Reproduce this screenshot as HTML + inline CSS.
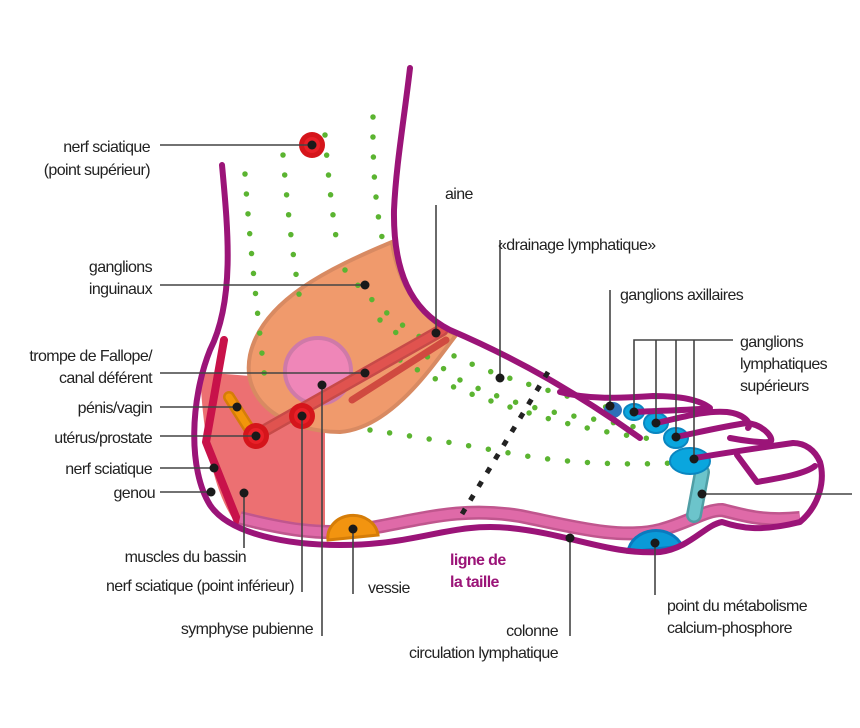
<!DOCTYPE html>
<html><head><meta charset="utf-8"><style>
html,body{margin:0;padding:0;background:#fff}
svg{display:block}
text{font-family:"Liberation Sans",sans-serif;font-size:16px;fill:#222;letter-spacing:-0.6px}
</style></head><body>
<svg width="860" height="728" viewBox="0 0 860 728" xmlns="http://www.w3.org/2000/svg">
<path d="M200 372 L325 382 L325 532 L235 522 Q205 480 200 372Z" fill="#ec7072"/>
<path d="M392 242 C330 268 262 300 250 355 C240 405 290 432 340 432 C390 428 430 370 456 335 C420 318 398 285 392 242Z" fill="#f09a6c" stroke="#d88a62" stroke-width="4"/>
<circle cx="318" cy="371" r="33" fill="#ef86b8" stroke="#cf7aa8" stroke-width="4"/>
<g fill="none" stroke="#5bb431" stroke-width="5.5" stroke-linecap="round" stroke-dasharray="0 20">
<path d="M245 174 Q250 250 265 380"/>
<path d="M283 155 Q290 240 300 300"/>
<path d="M325 135 Q330 200 338 250"/>
<path d="M373 117 Q372 200 385 250"/>
<path d="M345 270 Q400 340 500 375 Q560 395 610 408"/>
<path d="M380 320 Q430 360 460 380 Q520 410 600 420 L650 430"/>
<path d="M400 360 Q450 390 520 410 Q580 430 660 440"/>
<path d="M370 430 Q440 440 520 455 Q600 468 690 462"/>
</g>
<path d="M262 432 L442 330" stroke="#c74a48" stroke-width="13" stroke-linecap="round"/>
<path d="M262 432 L442 330" stroke="#e0534f" stroke-width="8" stroke-linecap="round"/>
<path d="M352 400 L446 340" stroke="#d04a40" stroke-width="7" stroke-linecap="round"/>
<path d="M229 397 L250 430" stroke="#d57d08" stroke-width="12" stroke-linecap="round"/>
<path d="M229 397 L250 430" stroke="#f2950a" stroke-width="7" stroke-linecap="round"/>
<path d="M224 340 L206 442 L238 522" stroke="#c8124a" stroke-width="8" fill="none" stroke-linecap="round" stroke-linejoin="round"/>
<path d="M240 518 C280 528 320 536 360 530 C420 520 460 506 520 516 C570 526 620 540 660 530 C690 522 705 510 722 510 C740 514 760 522 800 518" stroke="#c0568e" stroke-width="14" fill="none"/>
<path d="M240 518 C280 528 320 536 360 530 C420 520 460 506 520 516 C570 526 620 540 660 530 C690 522 705 510 722 510 C740 514 760 522 800 518" stroke="#df6aa8" stroke-width="9" fill="none"/>
<path d="M328 540 A25 22 0 0 1 378 535 Z" fill="#f29410" stroke="#d57d08" stroke-width="3"/>
<path d="M628 552 A28 24 0 0 1 682 546 Z" fill="#0a9ad8" stroke="#0a7abe" stroke-width="3"/>
<path d="M702 472 L694 515" stroke="#4f9ea5" stroke-width="16" stroke-linecap="round"/>
<path d="M702 472 L694 515" stroke="#6cc4cb" stroke-width="11" stroke-linecap="round"/>
<ellipse cx="690" cy="461" rx="20" ry="13" fill="#0aa6de" stroke="#0a86c0" stroke-width="2"/>
<ellipse cx="676" cy="438" rx="12" ry="10" fill="#0aa6de" stroke="#0a86c0" stroke-width="2"/>
<ellipse cx="656" cy="423" rx="12" ry="10" fill="#0aa6de" stroke="#0a86c0" stroke-width="2"/>
<ellipse cx="634" cy="412" rx="10" ry="8" fill="#0aa6de" stroke="#0a86c0" stroke-width="2"/>
<ellipse cx="613" cy="410" rx="9" ry="8" fill="#2d70b8"/>
<g fill="none" stroke="#9b1478" stroke-width="6" stroke-linecap="round" stroke-linejoin="round">
<path d="M222 165 C228 230 235 300 210 350 C190 400 188 470 210 505 C230 535 290 545 340 545 C420 545 450 522 510 528 C570 534 610 555 660 552 C690 548 705 525 722 522 C740 528 760 532 800 522 C820 505 825 480 820 462 C815 450 805 443 793 443"/>
<path d="M410 68 C404 120 396 165 394 210 C393 270 410 310 450 330 C520 360 580 395 640 438"/>
<path d="M560 392 C590 400 620 398 653 396 C680 396 700 400 710 408 C700 410 670 410 634 412"/>
<path d="M656 423 C680 418 705 410 727 412 C745 414 752 424 748 428"/>
<path d="M676 437 C700 432 725 426 747 423 C765 425 775 440 770 442 C760 443 740 440 730 438"/>
<path d="M695 458 C730 452 765 447 793 443"/>
<path d="M737 455 L757 482 C780 478 805 474 815 466"/>
</g>
<path d="M548 372 L462 514" stroke="#222" stroke-width="5" stroke-dasharray="6 10" fill="none"/>
<g fill="#d5151b"><circle cx="312" cy="145" r="13"/><circle cx="302" cy="416" r="13"/><circle cx="256" cy="436" r="13"/></g>
<g fill="#e82028"><circle cx="312" cy="145" r="8"/><circle cx="302" cy="416" r="8"/><circle cx="256" cy="436" r="8"/></g>
<g stroke="#444" stroke-width="1.6" fill="none">
<path d="M160 145 H312"/><path d="M160 285 H365"/><path d="M160 373 H365"/><path d="M160 407 H237"/><path d="M160 436 H256"/><path d="M160 468 H214"/><path d="M160 492 H211"/>
<path d="M244 493 V548"/><path d="M302 416 V592"/><path d="M322 385 V636"/><path d="M353 529 V594"/>
<path d="M436 205 V333"/><path d="M500 240 V378"/><path d="M610 290 V410"/>
<path d="M733 340 H634 V412 M656 340 V423 M676 340 V437 M694 340 V459"/>
<path d="M570 538 V636"/><path d="M655 543 V595"/><path d="M702 494 H852"/>
</g>
<g fill="#1a1a1a">
<circle cx="312" cy="145" r="4.5"/><circle cx="365" cy="285" r="4.5"/><circle cx="365" cy="373" r="4.5"/><circle cx="237" cy="407" r="4.5"/><circle cx="256" cy="436" r="4.5"/><circle cx="214" cy="468" r="4.5"/><circle cx="211" cy="492" r="4.5"/><circle cx="244" cy="493" r="4.5"/><circle cx="302" cy="416" r="4.5"/><circle cx="322" cy="385" r="4.5"/><circle cx="353" cy="529" r="4.5"/><circle cx="436" cy="333" r="4.5"/><circle cx="500" cy="378" r="4.5"/><circle cx="610" cy="406" r="4.5"/><circle cx="634" cy="412" r="4.5"/><circle cx="656" cy="423" r="4.5"/><circle cx="676" cy="437" r="4.5"/><circle cx="694" cy="459" r="4.5"/><circle cx="702" cy="494" r="4.5"/><circle cx="570" cy="538" r="4.5"/><circle cx="655" cy="543" r="4.5"/>
</g>
<g text-anchor="end">
<text x="150" y="152">nerf sciatique</text><text x="150" y="175">(point supérieur)</text>
<text x="152" y="272">ganglions</text><text x="152" y="294">inguinaux</text>
<text x="152" y="361">trompe de Fallope/</text><text x="152" y="383">canal déférent</text>
<text x="152" y="413">pénis/vagin</text>
<text x="152" y="443">utérus/prostate</text>
<text x="152" y="474">nerf sciatique</text>
<text x="155" y="498">genou</text>
<text x="246" y="562">muscles du bassin</text>
<text x="294" y="591">nerf sciatique (point inférieur)</text>
<text x="313" y="634">symphyse pubienne</text>
</g>
<text x="368" y="593">vessie</text>
<text x="445" y="199">aine</text>
<text x="498" y="250">«drainage lymphatique»</text>
<text x="620" y="300">ganglions axillaires</text>
<text x="740" y="347">ganglions</text><text x="740" y="369">lymphatiques</text><text x="740" y="391">supérieurs</text>
<text x="667" y="611">point du métabolisme</text><text x="667" y="633">calcium-phosphore</text>
<text x="558" y="636" text-anchor="end">colonne</text><text x="558" y="658" text-anchor="end">circulation lymphatique</text>
<text x="450" y="565" style="fill:#9b1478;font-weight:bold">ligne de</text>
<text x="450" y="587" style="fill:#9b1478;font-weight:bold">la taille</text>
</svg>
</body></html>
